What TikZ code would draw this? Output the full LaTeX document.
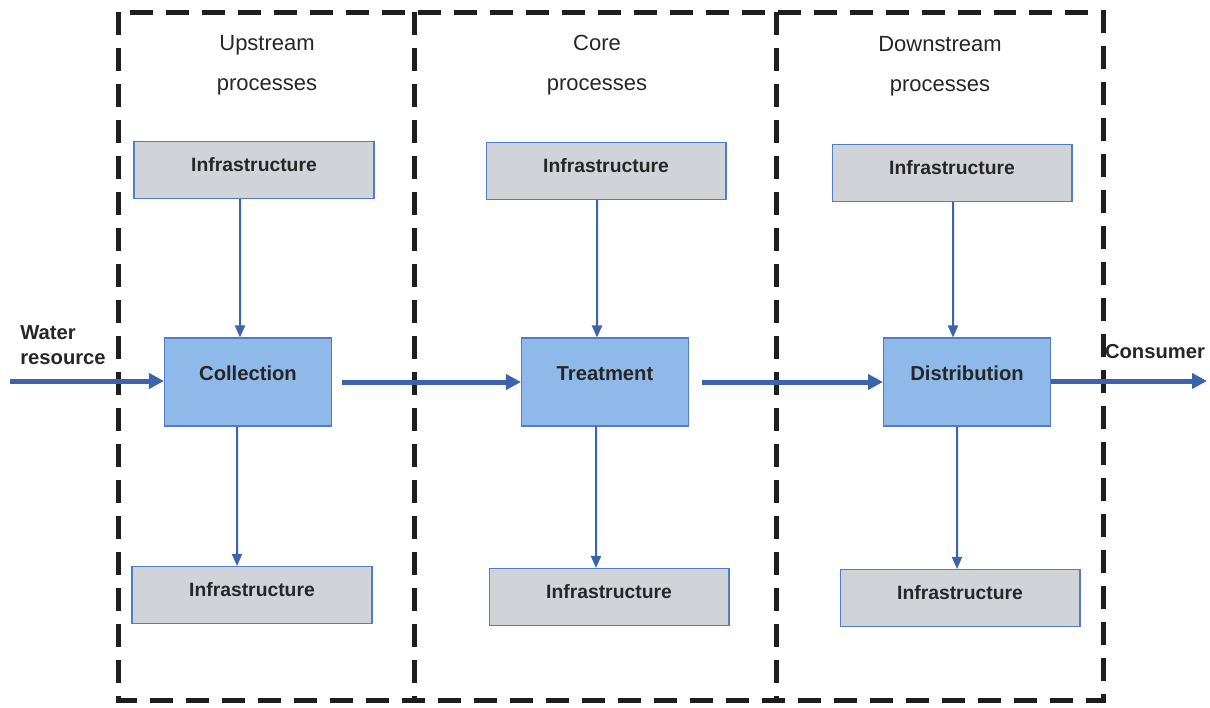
\documentclass[tikz,border=0pt]{standalone}
\usepackage{fontspec}
\setmainfont{Liberation Sans}
\usepackage{xcolor}
\usetikzlibrary{arrows.meta, positioning}
\definecolor{procblue}{RGB}{142,185,233}
\definecolor{edgeblue}{RGB}{79,125,200}
\definecolor{infragray}{RGB}{208,211,216}
\definecolor{flowblue}{RGB}{60,100,172}
\definecolor{framegray}{RGB}{30,30,30}
\tikzset{
  infra/.style={rectangle, draw=edgeblue, fill=infragray, line width=0.6pt,
                minimum width=4.8cm, minimum height=1.14cm,
                text height=0.28cm, text depth=0.24cm,
                font=\fontsize{11}{13}\selectfont\bfseries, text=black!85},
  proc/.style={rectangle, draw=edgeblue, fill=procblue, line width=0.6pt,
               minimum width=3.34cm, minimum height=1.76cm,
               text height=0.3cm, text depth=0.38cm,
               font=\fontsize{11.5}{13}\selectfont\bfseries, text=black!85},
  title/.style={align=center, font=\fontsize{12.5}{23}\selectfont, text=black!85},
  flow/.style={-{Triangle[length=0.3cm, width=0.3cm]}, draw=flowblue, line width=0.1cm},
  feed/.style={-{Triangle[length=0.24cm, width=0.2cm]}, draw=flowblue, line width=0.04cm},
  frame/.style={draw=framegray, line width=0.1cm, dash pattern=on 0.46cm off 0.26cm},
  flowlabel/.style={font=\fontsize{11.5}{14.5}\selectfont\bfseries, text=black!85,
                    align=left, inner sep=0pt},
}
\begin{document}
\begin{tikzpicture}[x=0.02cm, y=-0.02cm]
  \useasboundingbox (0,0) rectangle (1210,707);

  % Process frames
  \draw[frame] (118,12) rectangle (1103,700);
  \draw[frame] (414,12) -- (414,700);
  \draw[frame] (776,12) -- (776,700);

  % Titles
  \node[title] (upTitle) at (267,65) {Upstream\\processes};
  \node[title] (coreTitle) at (597,65) {Core\\processes};
  \node[title] (downTitle) at (940,66) {Downstream\\processes};

  % Nodes
  \node[infra] (upTop) at (254,170) {Infrastructure};
  \node[proc] (collection) at (248,382) {Collection};
  \node[infra] (upBot) at (252,595) {Infrastructure};

  \node[infra] (coreTop) at (606,171) {Infrastructure};
  \node[proc] (treatment) at (605,382) {Treatment};
  \node[infra] (coreBot) at (609,597) {Infrastructure};

  \node[infra] (downTop) at (952,173) {Infrastructure};
  \node[proc] (distribution) at (967,382) {Distribution};
  \node[infra] (downBot) at (960,598) {Infrastructure};

  % Inflow and outflow
  \coordinate (source) at (10,381);
  \coordinate (sink) at (1207,381);
  \node[flowlabel, anchor=west] (waterLbl) at (20,345) {Water\\resource};
  \node[flowlabel] (consumerLbl) at (1155,352) {Consumer};

  % Edges (main flow)
  \draw[flow] (source) -- (collection.west |- source);
  \draw[flow, shorten <=0.2cm] (collection) -- (treatment);
  \draw[flow, shorten <=0.26cm] (treatment) -- (distribution);
  \draw[flow] (distribution.east |- sink) -- (sink);

  % Edges (infrastructure)
  \draw[feed] ([xshift=-0.28cm]upTop.south) -- ([xshift=-0.16cm]collection.north);
  \draw[feed] ([xshift=-0.22cm]collection.south) -- ([xshift=-0.3cm]upBot.north);
  \draw[feed] ([xshift=-0.18cm]coreTop.south) -- ([xshift=-0.16cm]treatment.north);
  \draw[feed] ([xshift=-0.18cm]treatment.south) -- ([xshift=-0.26cm]coreBot.north);
  \draw[feed] ([xshift=0.02cm]downTop.south) -- ([xshift=-0.28cm]distribution.north);
  \draw[feed] ([xshift=-0.2cm]distribution.south) -- ([xshift=-0.06cm]downBot.north);

\end{tikzpicture}
\end{document}
